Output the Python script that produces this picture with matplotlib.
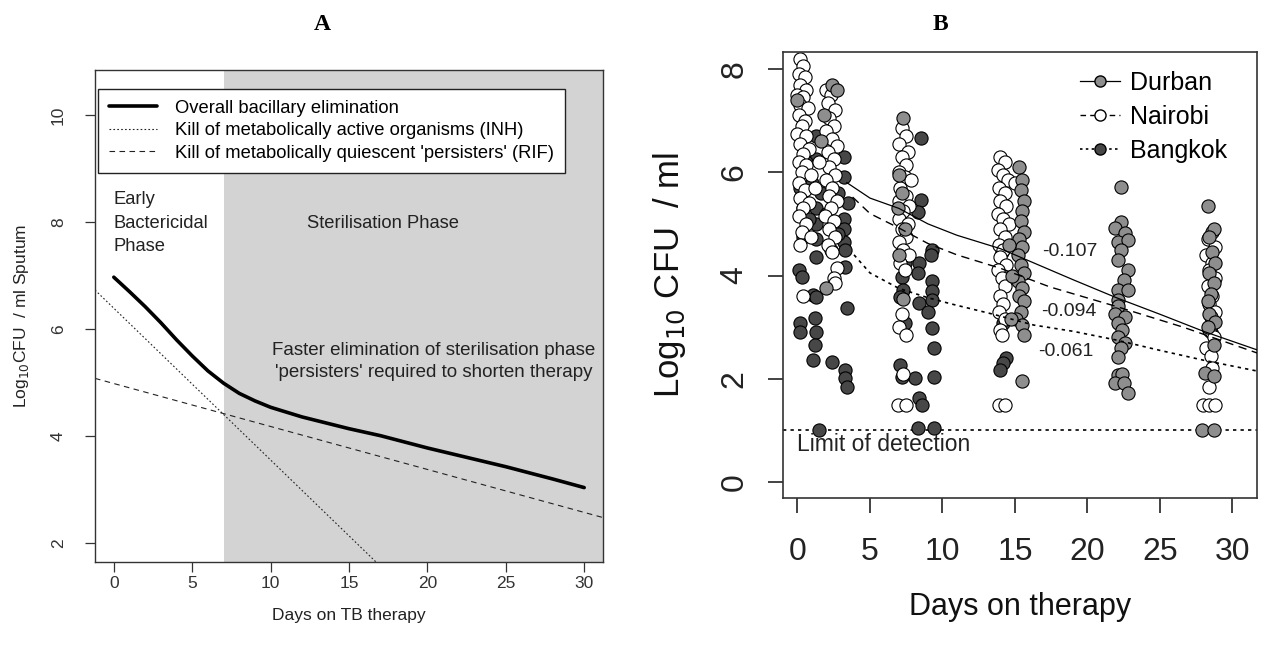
import matplotlib
matplotlib.use('Agg')
import matplotlib.pyplot as plt
from matplotlib.lines import Line2D

plt.rcParams['font.family'] = ['Liberation Sans', 'DejaVu Sans']

# ── Panel A: model curves ────────────────────────────────
overall_days = [0, 1, 2, 3, 4, 5, 6, 7, 8, 9, 10, 12, 15, 17, 20, 22, 25, 28, 30]
overall_log = [6.97, 6.70, 6.42, 6.12, 5.80, 5.50, 5.22, 4.99, 4.80, 4.66, 4.54,
               4.36, 4.14, 4.01, 3.78, 3.64, 3.43, 3.20, 3.04]
inh_days = [-1.2, 17.5]
inh_log = [6.73, 1.43]
rif_days = [-1.2, 31.2]
rif_log = [5.08, 2.48]
steril_start = 7

# ── Panel B: sputum counts by site ───────────────────────
durban_day = [2.4, 2.7, 1.8, 0.0, 2.0, 1.6,
              7.3, 7.0, 7.2, 6.9, 7.4, 7.0, 7.3,
              15.3, 15.5, 15.4, 15.6, 15.5, 15.4, 15.6, 15.3, 15.5, 15.2, 15.4, 15.6,
              15.2, 15.5, 15.3, 15.6, 15.4, 15.1, 15.5, 15.6, 15.5, 14.6, 14.8, 14.7,
              22.3, 22.3, 21.9, 22.6, 22.1, 22.8, 22.3, 22.1, 22.8, 22.5, 22.1, 22.8,
              22.1, 22.1, 21.9, 22.6, 22.1, 22.4, 22.1, 22.6, 22.3, 22.1, 22.1, 22.4,
              21.9, 22.5, 22.8,
              28.3, 28.7, 28.4, 28.6, 28.8, 28.4, 28.7, 28.5, 28.3, 28.4, 28.8, 28.3,
              28.7, 28.1, 28.7, 27.9, 28.7]
durban_log = [7.70, 7.60, 7.10, 7.40, 3.75, 6.60,
              7.05, 5.95, 5.60, 5.30, 4.90, 4.40, 3.55,
              6.10, 5.85, 5.65, 5.45, 5.25, 5.05, 4.85, 4.70, 4.55, 4.40, 4.20, 4.05,
              3.90, 3.75, 3.60, 3.50, 3.30, 3.15, 3.05, 2.85, 1.95, 4.60, 4.00, 3.15,
              5.72, 5.04, 4.92, 4.83, 4.65, 4.69, 4.50, 4.30, 4.10, 3.91, 3.72, 3.72,
              3.53, 3.40, 3.26, 3.20, 3.08, 2.95, 2.81, 2.69, 2.60, 2.43, 2.08, 2.10,
              1.92, 1.92, 1.72,
              5.35, 4.90, 4.75, 4.45, 4.25, 4.05, 3.85, 3.65, 3.50, 3.25, 3.10, 3.00,
              2.65, 2.12, 2.05, 1.00, 1.00]

nairobi_day = [0.2, 0.4, 0.1, 0.5, 0.2, 0.6, 0.0, 0.4, 0.2, 0.7, 0.1, 0.5, 0.3, 0.0,
               0.6, 0.2, 0.8, 0.4, 0.1, 0.6, 0.3, 0.9, 0.1, 0.5, 0.2, 0.8, 0.4, 0.1,
               0.6, 0.3, 0.9, 0.2, 0.4,
               2.0, 2.3, 2.1, 2.6, 2.2, 2.5, 2.0, 2.4, 2.7, 2.1, 2.5, 2.2, 2.6, 2.0,
               2.4, 2.2, 2.7, 2.3, 1.9, 2.5, 2.2, 2.6, 2.1, 2.4, 2.7, 2.5, 2.6, 1.5, 1.2,
               7.2, 7.5, 7.0, 7.6, 7.2, 7.5, 7.0, 7.4, 7.8, 7.1, 7.5, 7.0, 7.7, 7.3,
               7.0, 7.6, 7.2, 7.5, 7.0, 7.3, 7.7, 7.1, 7.4, 7.2, 7.0, 7.5, 7.3, 6.9, 7.5,
               14.0, 14.3, 13.8, 14.2, 14.5, 13.9, 14.3, 14.0, 14.4, 13.8, 14.2, 14.6,
               14.0, 14.3, 13.9, 14.2, 14.0, 14.4, 13.8, 14.1, 14.3, 14.0, 14.2, 13.9,
               14.3, 14.0, 14.1, 13.9, 14.3, 15.0, 15.2,
               28.6, 28.3, 28.8, 28.2, 28.6, 28.4, 28.8, 28.3, 28.6, 28.4, 28.8, 28.5,
               28.4, 28.7, 28.2, 28.5, 28.6, 28.4, 28.0, 28.4, 28.8]
nairobi_log = [8.20, 8.05, 7.90, 7.85, 7.70, 7.60, 7.50, 7.45, 7.30, 7.25, 7.10, 7.00,
               6.90, 6.75, 6.70, 6.55, 6.45, 6.35, 6.20, 6.15, 6.00, 5.95, 5.80, 5.65,
               5.50, 5.40, 5.30, 5.15, 5.00, 4.85, 4.75, 4.60, 3.60,
               7.60, 7.50, 7.35, 7.20, 7.05, 6.90, 6.80, 6.65, 6.50, 6.40, 6.25, 6.10,
               5.95, 5.85, 5.70, 5.55, 5.45, 5.30, 5.15, 5.05, 4.90, 4.75, 4.60, 4.45,
               4.15, 3.95, 3.85, 6.20, 5.70,
               6.85, 6.70, 6.55, 6.40, 6.30, 6.15, 6.00, 5.90, 5.85, 5.70, 5.55, 5.45,
               5.35, 5.25, 5.10, 5.00, 4.90, 4.75, 4.65, 4.50, 4.40, 4.25, 4.10, 3.25,
               3.00, 2.85, 2.10, 1.50, 1.50,
               6.30, 6.20, 6.05, 5.95, 5.85, 5.70, 5.60, 5.45, 5.35, 5.20, 5.10, 5.00,
               4.90, 4.75, 4.60, 4.50, 4.35, 4.20, 4.10, 3.95, 3.80, 3.60, 3.45, 3.30,
               3.15, 2.95, 2.85, 1.50, 1.50, 5.80, 4.60,
               4.85, 4.70, 4.55, 4.40, 4.25, 4.10, 3.95, 3.80, 3.60, 3.45, 3.30, 3.20,
               2.95, 2.80, 2.60, 2.45, 2.20, 1.85, 1.50, 1.50, 1.50]

bangkok_day = [1.3, 3.2, 1.3, 0.2, 3.2, 0.3, 1.3, 3.5, 0.4, 3.2, 1.3, 0.4, 3.2, 3.2,
               1.3, 2.3, 3.3, 1.3, 0.1, 0.3, 1.1, 1.3, 3.4, 0.2, 0.2, 1.2, 1.3, 1.2,
               1.1, 2.4, 3.3, 3.3, 3.4, 1.45, 3.3, 0.6, 1.0, 0.8, 1.6, 2.0, 2.8, 2.8,
               8.5, 8.5, 8.3, 9.3, 9.2, 8.35, 7.4, 8.3, 7.24, 9.3, 9.3, 7.3, 7.1,
               8.35, 9.3, 9.0, 7.45, 9.3, 9.4, 7.1, 8.1, 7.24, 9.4, 8.35, 8.6, 8.3, 9.4,
               14.1, 14.2, 14.4, 14.2, 14.0, 28.5]
bangkok_log = [6.70, 6.30, 6.25, 5.70, 5.90, 5.50, 5.30, 5.40, 5.30, 5.10, 5.00, 4.75,
               4.90, 4.65, 4.70, 4.50, 4.50, 4.35, 4.10, 3.97, 3.62, 3.58, 3.37, 3.08,
               2.90, 3.18, 2.90, 2.65, 2.36, 2.32, 2.17, 2.01, 1.85, 1.00, 4.17, 6.20,
               5.80, 5.10, 5.60, 5.20, 4.80, 5.60,
               6.67, 5.47, 5.23, 4.50, 4.40, 4.24, 4.24, 4.05, 3.97, 3.90, 3.70, 3.72,
               3.59, 3.47, 3.53, 3.30, 3.08, 2.98, 2.60, 2.27, 2.01, 2.04, 2.04, 1.63,
               1.50, 1.05, 1.05,
               4.45, 3.08, 2.40, 2.30, 2.17, 2.90]

# fitted decline curves
durban_fit_day = [3.4, 5, 7, 9, 11, 14, 16, 19, 22, 25, 28, 31.7]
durban_fit_log = [5.80, 5.50, 5.30, 5.00, 4.78, 4.52, 4.28, 3.92, 3.57, 3.25, 2.92, 2.56]
nairobi_fit_day = [3.8, 5, 7, 9, 11, 14, 17.4, 22, 26.6, 31.7]
nairobi_fit_log = [5.52, 5.20, 4.92, 4.62, 4.40, 4.14, 3.78, 3.40, 3.00, 2.50]
bangkok_fit_day = [3.9, 5, 7, 9, 10.6, 13.5, 16.3, 19, 22, 25, 28, 31.7]
bangkok_fit_log = [4.40, 4.05, 3.75, 3.57, 3.45, 3.25, 3.04, 2.92, 2.75, 2.55, 2.36, 2.15]
slopes = ['-0.107', '-0.094', '-0.061']
slope_pos = [(16.9, 4.46), (16.8, 3.31), (16.6, 2.52)]
lod = 1.0

# ── figure ───────────────────────────────────────────────
fig = plt.figure(figsize=(12.7, 6.52), dpi=100)

# panel A
axA = fig.add_axes([95 / 1270, 90 / 652, 508 / 1270, 492 / 652])
axA.axvspan(steril_start, 40, color='#d3d3d3', lw=0, zorder=0)
axA.plot(overall_days, overall_log, color='black', lw=2.6, solid_capstyle='round',
         label='Overall bacillary elimination')
axA.plot(inh_days, inh_log, color='#222222', lw=0.8, linestyle=(0, (1.5, 2)),
         label='Kill of metabolically active organisms (INH)')
axA.plot(rif_days, rif_log, color='#222222', lw=0.8, linestyle=(0, (5, 4)),
         label="Kill of metabolically quiescent 'persisters' (RIF)")
axA.set_xlim(-1.2, 31.2)
axA.set_ylim(1.65, 10.84)
axA.set_xticks(range(0, 31, 5))
axA.set_yticks([2, 4, 6, 8, 10])
axA.tick_params(direction='out', length=7, width=0.9, labelsize=12.5, colors='#333333')
axA.tick_params(axis='x', pad=3)
axA.tick_params(axis='y', pad=14)
for lab in axA.get_yticklabels():
    lab.set_rotation(90)
    lab.set_va('center')
for sp in axA.spines.values():
    sp.set_linewidth(1.0)
    sp.set_color('#333333')
axA.set_xlabel('Days on TB therapy', fontsize=12.5, labelpad=12, color='#222222')
axA.set_ylabel('Log$_{10}$CFU  / ml Sputum', fontsize=12.5, labelpad=14, color='#222222')

leg = axA.legend(loc='upper left', bbox_to_anchor=(0.006, 0.962), fontsize=13.2,
                 frameon=True, fancybox=False, edgecolor='#222222', framealpha=1,
                 handlelength=2.6, labelspacing=0.3, borderpad=0.6,
                 handletextpad=1.0, borderaxespad=0)
leg.get_frame().set_linewidth(1.0)

axA.text(-0.05, 7.98, 'Early\nBactericidal\nPhase', fontsize=13.2, ha='left',
         va='center', linespacing=1.5, color='#222222')
axA.text(17.2, 7.98, 'Sterilisation Phase', fontsize=13.2, ha='center', va='center',
         color='#222222')
axA.text(20.4, 5.4, "Faster elimination of sterilisation phase\n"
                    "'persisters' required to shorten therapy",
         fontsize=13.5, ha='center', va='center', linespacing=1.35, color='#222222')

# panel B
axB = fig.add_axes([783 / 1270, 154 / 652, 474 / 1270, 446 / 652])
ms = 90
axB.scatter(bangkok_day, bangkok_log, s=ms, c='#474747', edgecolors='black',
            linewidths=0.8, zorder=2)
axB.scatter(nairobi_day, nairobi_log, s=ms, c='white', edgecolors='black',
            linewidths=0.8, zorder=2)
axB.scatter(durban_day, durban_log, s=ms, c='#8e8e8e', edgecolors='black',
            linewidths=0.8, zorder=2)
axB.plot(durban_fit_day, durban_fit_log, color='black', lw=0.9, zorder=3)
axB.plot(nairobi_fit_day, nairobi_fit_log, color='black', lw=1.0,
         linestyle=(0, (6, 4)), zorder=3)
axB.plot(bangkok_fit_day, bangkok_fit_log, color='black', lw=1.2,
         linestyle=(0, (2, 2.5)), zorder=3)
axB.axhline(lod, color='black', lw=1.2, linestyle=(0, (2, 2.5)), zorder=1)
axB.text(0.0, 0.72, 'Limit of detection', fontsize=16.5, ha='left', va='center',
         color='#222222')
for s, (x, y) in zip(slopes, slope_pos):
    axB.text(x, y, s, fontsize=14, ha='left', va='center', color='#222222')

axB.set_xlim(-1.0, 31.7)
axB.set_ylim(-0.31, 8.33)
axB.set_xticks(range(0, 31, 5))
axB.set_yticks([0, 2, 4, 6, 8])
axB.tick_params(direction='out', length=11, width=1.2, labelsize=23, colors='#222222')
axB.tick_params(axis='x', pad=17)
axB.tick_params(axis='y', pad=13)
for lab in axB.get_yticklabels():
    lab.set_rotation(90)
    lab.set_va('center')
for sp in axB.spines.values():
    sp.set_linewidth(1.2)
    sp.set_color('#333333')
axB.set_xlabel('Days on therapy', fontsize=22, labelpad=18, color='#111111')
axB.set_ylabel('Log$_{10}$ CFU  / ml', fontsize=25, labelpad=23, color='#111111')

handles = [
    Line2D([], [], color='black', lw=0.9, marker='o', ms=8, mfc='#8e8e8e', mec='black'),
    Line2D([], [], color='black', lw=1.0, linestyle=(0, (4, 3)), marker='o', ms=8,
           mfc='white', mec='black'),
    Line2D([], [], color='black', lw=1.2, linestyle=(0, (1.5, 2)), marker='o', ms=8,
           mfc='#474747', mec='black'),
]
axB.legend(handles, ['Durban', 'Nairobi', 'Bangkok'], loc='upper left',
           bbox_to_anchor=(0.58, 1.008), frameon=False, fontsize=18,
           handlelength=1.6, labelspacing=0.4, handletextpad=0.4)

fig.text(322 / 1270, 1 - 24 / 652, 'A', fontsize=17, fontweight='bold',
         family='Liberation Serif', ha='center', va='center')
fig.text(940 / 1270, 1 - 24 / 652, 'B', fontsize=17, fontweight='bold',
         family='Liberation Serif', ha='center', va='center')

fig.savefig('out.png', dpi=100)
